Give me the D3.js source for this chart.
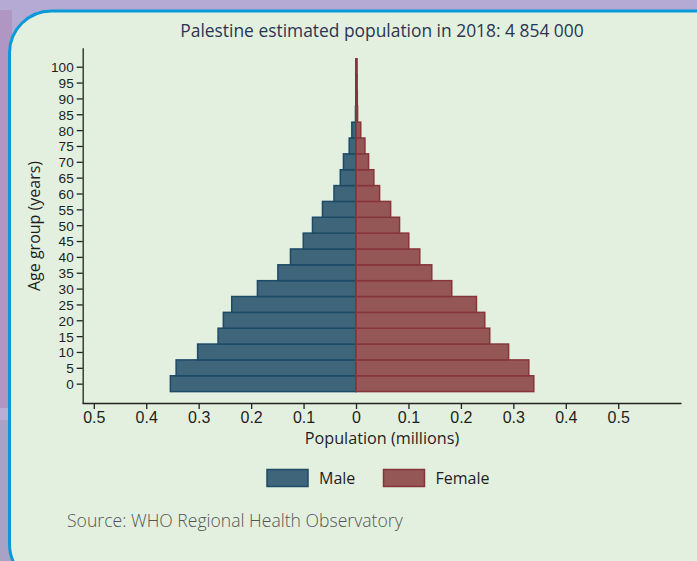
<!DOCTYPE html>
<html><head><meta charset="utf-8">
<script src="https://cdn.jsdelivr.net/npm/d3@7"></script>
<style>
html,body{margin:0;padding:0;background:#b4aad3;}
svg{display:block;}
</style></head>
<body>
<script>
const ages = [0,5,10,15,20,25,30,35,40,45,50,55,60,65,70,75,80,85,90,95,100];
const male = [0.354,0.343,0.302,0.263,0.253,0.237,0.188,0.149,0.125,0.1006,0.083,0.064,0.042,0.030,0.024,0.013,0.008,0.001,0.0005,0.0004,0.0003];
const female = [0.339,0.3295,0.291,0.255,0.2455,0.2297,0.1826,0.1445,0.1216,0.1006,0.083,0.066,0.045,0.034,0.024,0.017,0.009,0.003,0.0025,0.0022,0.002];
const xTicks = [-0.5,-0.4,-0.3,-0.2,-0.1,0,0.1,0.2,0.3,0.4,0.5];
const yTicks = [0,5,10,15,20,25,30,35,40,45,50,55,60,65,70,75,80,85,90,95,100];
const title = "Palestine estimated population in 2018: 4 854 000";
const series = ["Male","Female"];

const W = 697, H = 561;
const svg = d3.select("body").append("svg").attr("width", W).attr("height", H);
const font = "'Open Sans', 'Noto Sans', sans-serif";
const narrow = "'Liberation Sans Narrow', 'Liberation Sans', sans-serif";
const lib = "'Liberation Sans', sans-serif";

// background
svg.append("rect").attr("x",0).attr("y",0).attr("width",W).attr("height",H).attr("fill","#b4aad3");
svg.append("rect").attr("x",0).attr("y",10).attr("width",12).attr("height",398).attr("fill","#b096c2");
svg.append("rect").attr("x",0).attr("y",408).attr("width",12).attr("height",12).attr("fill","#b9afd6");
svg.append("rect").attr("x",0).attr("y",420).attr("width",12).attr("height",141).attr("fill","#a8a2c6");
svg.append("rect").attr("x",9.5).attr("y",11).attr("width",730).attr("height",575).attr("rx",42).attr("ry",42)
  .attr("fill","#e4f0df").attr("stroke","#0a9ad8").attr("stroke-width",3);

const x = d3.scaleLinear().domain([-0.5225,0.6197]).range([82,681]);
const y = d3.scaleLinear().domain([-6.1,106]).range([403,47.7]);

const g = svg.append("g");

// bars
const data = ages.map((a,i)=>({age:a, m:male[i], f:female[i]}));
g.selectAll("rect.m").data(data).enter().append("rect")
  .attr("x", d=>x(-d.m)).attr("width", d=>x(0)-x(-d.m))
  .attr("y", d=>y(d.age+2.5)).attr("height", d=>y(d.age-2.5)-y(d.age+2.5))
  .attr("fill","#3e6579").attr("stroke","#1d4a66").attr("stroke-width",1.5);
g.selectAll("rect.f").data(data).enter().append("rect")
  .attr("x", x(0)).attr("width", d=>x(d.f)-x(0))
  .attr("y", d=>y(d.age+2.5)).attr("height", d=>y(d.age-2.5)-y(d.age+2.5))
  .attr("fill","#955656").attr("stroke","#86363b").attr("stroke-width",1.5);

// axes
const xa = svg.append("g").attr("transform","translate(0,403)")
  .call(d3.axisBottom(x).tickValues(xTicks).tickSize(6).tickSizeOuter(0).tickPadding(3)
    .tickFormat(d=> d===0 ? "0" : d3.format(".1f")(Math.abs(d))));
const ya = svg.append("g").attr("transform","translate(82.7,0)")
  .call(d3.axisLeft(y).tickValues(yTicks).tickSize(6).tickSizeOuter(0).tickPadding(3));
[xa,ya].forEach(a=>{
  a.selectAll("path,line").attr("stroke","#222").attr("stroke-width",1.3);
  a.selectAll("text").attr("fill","#1e1e1e");
});
xa.selectAll("text").attr("font-family",narrow).attr("font-size",16);
ya.selectAll("text").attr("font-family",lib).attr("font-size",13.6).attr("dy","0.36em");

// title
svg.append("text").attr("x",382).attr("y",37).attr("text-anchor","middle")
  .attr("font-family",font).attr("font-size",17.4).attr("fill","#2a3552").text(title);
// axis titles
svg.append("text").attr("x",382).attr("y",444).attr("text-anchor","middle")
  .attr("font-family",font).attr("font-size",16.2).attr("fill","#1e1e1e").text("Population (millions)");
svg.append("text").attr("transform","translate(40,226) rotate(-90)").attr("text-anchor","middle")
  .attr("font-family",font).attr("font-size",16).attr("fill","#1e1e1e").text("Age group (years)");

// legend
const leg = [{name:series[0], x:267, fill:"#3e6579", stroke:"#1d4a66"},{name:series[1], x:383.5, fill:"#955656", stroke:"#86363b"}];
leg.forEach(l=>{
  svg.append("rect").attr("x",l.x).attr("y",469.5).attr("width",41).attr("height",17)
    .attr("fill",l.fill).attr("stroke",l.stroke).attr("stroke-width",1.5);
  svg.append("text").attr("x",l.x+52).attr("y",484).attr("font-family",font).attr("font-size",16)
    .attr("fill","#1e1e1e").text(l.name);
});

// source
svg.append("text").attr("x",67).attr("y",527).attr("font-family",font).attr("font-weight",300)
  .attr("font-size",17.6).attr("fill","#555").text("Source: WHO Regional Health Observatory");
</script>
</body></html>
